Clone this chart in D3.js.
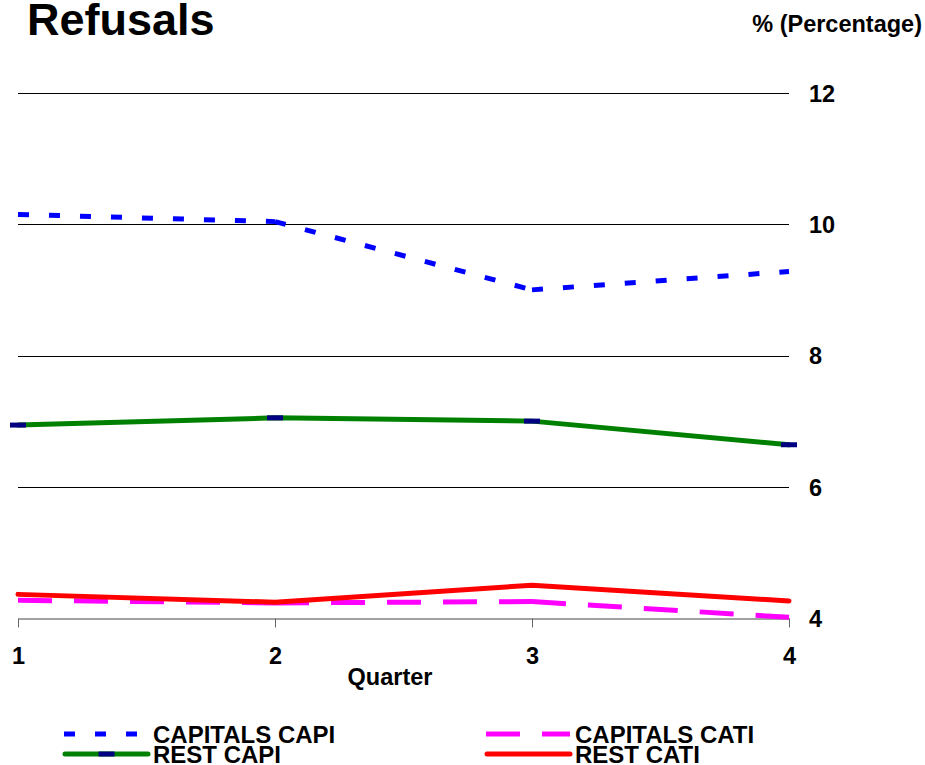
<!DOCTYPE html>
<html>
<head>
<meta charset="utf-8">
<script src="https://cdn.jsdelivr.net/npm/d3@7/dist/d3.min.js"></script>
<style>
  html, body { margin: 0; padding: 0; background: #fff; }
  svg { display: block; font-family: "Liberation Sans", Arial, sans-serif; font-weight: bold; }
</style>
</head>
<body>
<svg id="chart" width="925" height="765"></svg>
<script>
// Quarterly refusal rates (%)
const quarters = [1, 2, 3, 4];
const yTicks = [4, 6, 8, 10, 12];
const seriesNames = ["CAPITALS CAPI", "CAPITALS CATI", "REST CAPI", "REST CATI"];
const capitalsCapi = [10.15, 10.04, 9.0, 9.28];
const capitalsCati = [4.27, 4.23, 4.25, 4.01];
const restCapi = [6.94, 7.05, 7.0, 6.64];
const restCati = [4.36, 4.24, 4.5, 4.26];

const titleText = "Refusals";
const unitText = "% (Percentage)";
const xTitle = "Quarter";

const labelSize = 23.5;

// Visual style per series
const styles = {
  "CAPITALS CAPI": { color: "#0000FF", width: 5, dash: "11,20", cap: "butt" },
  "CAPITALS CATI": { color: "#FF00FF", width: 5, dash: "34,22", cap: "butt" },
  "REST CAPI":     { color: "#008000", width: 5, dash: null, cap: "round", marker: "#000080" },
  "REST CATI":     { color: "#FF0000", width: 5, dash: null, cap: "round" }
};
const valuesByName = {
  "CAPITALS CAPI": capitalsCapi,
  "CAPITALS CATI": capitalsCati,
  "REST CAPI": restCapi,
  "REST CATI": restCati
};

const svg = d3.select("#chart");

const x = d3.scalePoint().domain(quarters).range([18, 789]);
const y = d3.scaleLinear().domain([4, 12]).range([618, 93]);

// Title and unit label
svg.append("text").attr("x", 27).attr("y", 35)
  .attr("font-size", 45).text(titleText);
svg.append("text").attr("x", 922).attr("y", 32)
  .attr("text-anchor", "end").attr("font-size", labelSize).text(unitText);

// Horizontal gridlines with value labels on the right
const yAxis = d3.axisRight(y).tickValues(yTicks).tickSize(0).tickPadding(0)
  .tickFormat(d3.format("d"));
const gy = svg.append("g").attr("transform", "translate(809,0)").call(yAxis);
gy.select(".domain").remove();
gy.selectAll("text").attr("font-size", labelSize).attr("font-family", null)
  .attr("font-weight", "bold").attr("fill", "#000").attr("dy", "0.36em").attr("x", 0);

svg.append("g").selectAll("line")
  .data(yTicks.filter(d => d !== 4))
  .join("line")
  .attr("x1", x(1)).attr("x2", x(4))
  .attr("y1", d => Math.round(y(d)) + 0.5).attr("y2", d => Math.round(y(d)) + 0.5)
  .attr("stroke", "#000").attr("stroke-width", 1);

// Category axis along the bottom
const xAxis = d3.axisBottom(x).tickSize(9).tickPadding(19).tickSizeOuter(0);
const gx = svg.append("g").attr("transform", `translate(0,${Math.round(y(4)) + 0.5})`).call(xAxis);
gx.select(".domain").attr("stroke", "#444");
gx.selectAll(".tick line").attr("stroke", "#666");
gx.selectAll("text").attr("font-size", labelSize).attr("font-family", null)
  .attr("font-weight", "bold").attr("fill", "#000").attr("dy", 0).attr("y", 45);

svg.append("text").attr("x", 390).attr("y", 685)
  .attr("text-anchor", "middle").attr("font-size", labelSize).text(xTitle);

// Series lines (segments drawn separately so dash patterns restart at each point)
const plot = svg.append("g");
seriesNames.forEach(name => {
  const s = styles[name];
  const vals = valuesByName[name];
  const pts = quarters.map((q, i) => [x(q), y(vals[i])]);
  const g = plot.append("g");
  if (s.dash) {
    for (let i = 0; i < pts.length - 1; i++) {
      g.append("path")
        .attr("d", d3.line()([pts[i], pts[i + 1]]))
        .attr("fill", "none").attr("stroke", s.color)
        .attr("stroke-width", s.width).attr("stroke-dasharray", s.dash)
        .attr("stroke-linecap", s.cap);
    }
  } else {
    g.append("path")
      .attr("d", d3.line()(pts))
      .attr("fill", "none").attr("stroke", s.color)
      .attr("stroke-width", s.width).attr("stroke-linecap", s.cap)
      .attr("stroke-linejoin", "round");
  }
  if (s.marker) {
    g.selectAll("rect").data(pts).join("rect")
      .attr("x", d => d[0] - 8).attr("y", d => d[1] - 2.5)
      .attr("width", 16).attr("height", 5).attr("fill", s.marker);
  }
});

// Legend: two columns, two rows
const legendCols = [62, 484];
const legendRows = [734, 754];
const legend = svg.append("g");
seriesNames.forEach((name, i) => {
  const s = styles[name];
  const lx = legendCols[i % 2];
  const ly = legendRows[Math.floor(i / 2)];
  const g = legend.append("g");
  const x0 = s.dash ? lx + 2 : lx + 3;
  const x1 = lx + 86;
  g.append("line").attr("x1", x0).attr("x2", x1).attr("y1", ly).attr("y2", ly)
    .attr("stroke", s.color).attr("stroke-width", s.width)
    .attr("stroke-dasharray", s.dash).attr("stroke-linecap", s.cap);
  if (s.marker) {
    g.append("rect").attr("x", (x0 + x1) / 2 - 8).attr("y", ly - 2.5)
      .attr("width", 16).attr("height", 5).attr("fill", s.marker);
  }
  g.append("text").attr("x", lx + 91).attr("y", ly + 9)
    .attr("font-size", 24).text(name);
});
</script>
</body>
</html>
